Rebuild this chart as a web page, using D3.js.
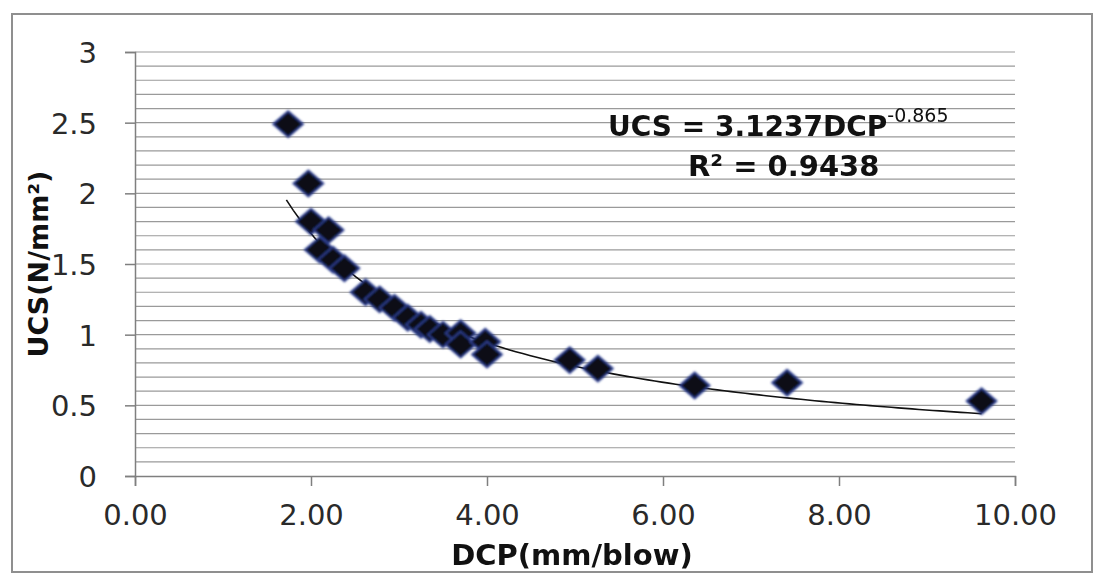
<html>
<meta charset="utf-8">
<body style="margin:0;background:#fff">
<script src="https://d3js.org/d3.v7.min.js"></script>
<div id="chart"></div>
<script>
// measured points, DCP (mm/blow) vs UCS (N/mm2)
var dcp = [1.74, 1.97, 2.00, 2.20, 2.10, 2.25, 2.38, 2.62, 2.78, 2.95, 3.10, 3.25, 3.35, 3.50, 3.70, 3.70, 3.98, 4.00, 4.94, 5.26, 6.36, 7.41, 9.62]
var ucs = [2.49, 2.07, 1.80, 1.74, 1.60, 1.53, 1.47, 1.30, 1.25, 1.19, 1.12, 1.07, 1.04, 1.00, 1.01, 0.93, 0.95, 0.86, 0.82, 0.76, 0.64, 0.66, 0.53]
// power trendline UCS = a * DCP^b, drawn over the data range
var trendCoef = [3.1237, -0.865]
var trendRange = [1.72, 9.62]
var xTicks = [0, 2, 4, 6, 8, 10]
var yTicks = [0, 0.5, 1, 1.5, 2, 2.5, 3]

var W = 1101, H = 575
var svg = d3.select("#chart").append("svg")
    .attr("width", W).attr("height", H)
    .style("font-family", "'DejaVu Sans', sans-serif")

// outer chart border
svg.append("rect")
    .attr("x", 12).attr("y", 14)
    .attr("width", 1080).attr("height", 558)
    .attr("fill", "#fff").attr("stroke", "#8f8f8f").attr("stroke-width", 2)

var x = d3.scaleLinear().domain([0, 10]).range([135, 1015])
var y = d3.scaleLinear().domain([0, 3]).range([476, 52])

// gridlines every 0.1
var grid = d3.range(1, 31).map(function(i) { return i / 10 })
svg.append("g").selectAll("line").data(grid).enter().append("line")
    .attr("x1", x(0)).attr("x2", x(10))
    .attr("y1", function(d) { return y(d) }).attr("y2", function(d) { return y(d) })
    .attr("stroke", "#9a9a9a").attr("stroke-width", 1.2)

// axes
var xAxis = svg.append("g")
    .attr("transform", "translate(0," + y(0) + ")")
    .call(d3.axisBottom(x).tickValues(xTicks).tickSize(10).tickPadding(18)
        .tickFormat(d3.format(".2f")))
var yAxis = svg.append("g")
    .attr("transform", "translate(" + x(0) + ",0)")
    .call(d3.axisLeft(y).tickValues(yTicks).tickSize(10).tickPadding(28)
        .tickFormat(function(d) { return d3.format("")(d) }))

;[xAxis, yAxis].forEach(function(a) {
  a.select(".domain").attr("stroke", "#7f7f7f").attr("stroke-width", 1.5)
  a.selectAll(".tick line").attr("stroke", "#7f7f7f").attr("stroke-width", 1.5)
  a.selectAll("text").attr("fill", "#2a2a2a").style("font-size", "29px")
    .style("font-family", "'DejaVu Sans', sans-serif")
})
yAxis.selectAll("text").attr("dy", "0.36em")

// trendline
var steps = d3.range(0, 101).map(function(i) {
  return trendRange[0] + (trendRange[1] - trendRange[0]) * i / 100
})
svg.append("path")
    .datum(steps)
    .attr("d", d3.line()
      .x(function(d) { return x(d) })
      .y(function(d) { return y(trendCoef[0] * Math.pow(d, trendCoef[1])) }))
    .attr("fill", "none").attr("stroke", "#111").attr("stroke-width", 1.6)

// soft blur for the markers
var defs = svg.append("defs")
defs.append("filter").attr("id", "soft")
  .append("feGaussianBlur").attr("stdDeviation", 1.3)

var pts = dcp.map(function(d, i) { return {x: d, y: ucs[i]} })
svg.append("g").attr("filter", "url(#soft)")
  .selectAll("path").data(pts).enter().append("path")
    .attr("transform", function(d) { return "translate(" + x(d.x) + "," + y(d.y) + ")" })
    .attr("d", "M0,-13 L15,0 L0,13 L-15,0 Z")
    .attr("fill", "#0c0c18").attr("stroke", "#2d3f8f").attr("stroke-width", 1.8)

// equation label
var eq = svg.append("text")
    .attr("x", 608).attr("y", 136)
    .style("font-size", "28px").style("font-weight", "bold").attr("fill", "#111")
eq.append("tspan").text("UCS = 3.1237DCP")
eq.append("tspan").attr("dy", -14).style("font-size", "19px").style("font-weight", "normal").text("-0.865")
svg.append("text")
    .attr("x", 688).attr("y", 176)
    .style("font-size", "29px").style("font-weight", "bold").attr("fill", "#111")
    .text("R² = 0.9438")

// axis titles
svg.append("text")
    .attr("x", 572).attr("y", 565)
    .attr("text-anchor", "middle")
    .style("font-size", "29px").style("font-weight", "bold").attr("fill", "#111")
    .text("DCP(mm/blow)")
svg.append("text")
    .attr("transform", "translate(48,264) rotate(-90)")
    .attr("text-anchor", "middle")
    .style("font-size", "27px").style("font-weight", "bold").attr("fill", "#111")
    .text("UCS(N/mm²)")
</script>
</body>
</html>
